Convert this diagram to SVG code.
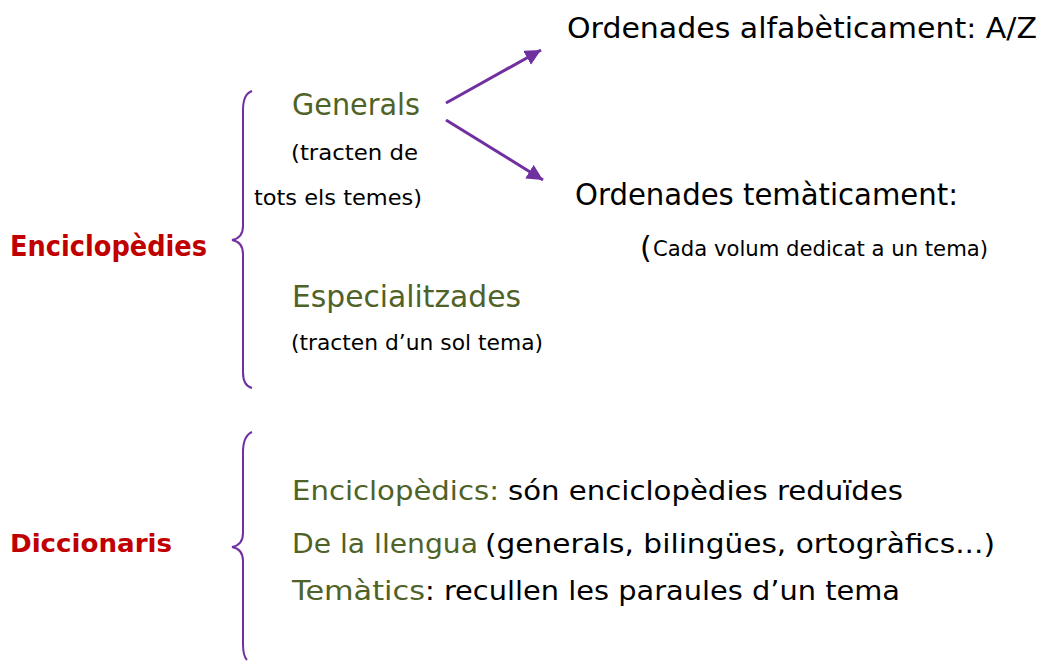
<svg xmlns="http://www.w3.org/2000/svg" width="1047" height="662" viewBox="0 0 1047 662">
<style>
text{font-family:"Comic Sans MS","DejaVu Sans",sans-serif;}
.k{fill:#000;}
.g{fill:#4F6228;}
.r{fill:#C00000;font-weight:bold;}
.br{fill:none;stroke:#7030A0;stroke-width:2;}
.ar{fill:none;stroke:#7030A0;stroke-width:3;}
</style>
<defs>
<marker id="ah" markerUnits="userSpaceOnUse" markerWidth="20" markerHeight="20" refX="16" refY="8" orient="auto">
<path d="M0,0 L16,8 L0,16 Z" fill="#7030A0"/>
</marker>
</defs>
<rect width="1047" height="662" fill="#fff"/>
<g id="connectors">
<line class="ar" x1="446" y1="103" x2="541" y2="50" marker-end="url(#ah)"/>
<line class="ar" x1="446" y1="120" x2="543" y2="180" marker-end="url(#ah)"/>
<path id="brace1" class="br" d="M252,91 Q243,94 243,110 L243,226 Q243,238 232,240 Q243,242 243,254 L243,372 Q243,386 252,388"/>
<path id="brace2" class="br" d="M252,432 Q243,436 243,452 L243,533 Q243,545 232,547 Q243,549 243,561 L243,644 Q243,656 247,660"/>
</g>
<g id="enciclopedies"><text class="r" x="10" y="256" font-size="28" textLength="197" lengthAdjust="spacingAndGlyphs">Enciclopèdies</text></g>
<g id="generals">
<text class="g" x="292" y="115" font-size="30" textLength="128" lengthAdjust="spacingAndGlyphs">Generals</text>
<text class="k" x="291" y="160" font-size="22" textLength="127" lengthAdjust="spacingAndGlyphs">(tracten de</text>
<text class="k" x="254" y="205" font-size="22" textLength="168" lengthAdjust="spacingAndGlyphs">tots els temes)</text>
</g>
<g id="alfabetic"><text class="k" x="567" y="38" font-size="28" textLength="470" lengthAdjust="spacingAndGlyphs">Ordenades alfabèticament: A/Z</text></g>
<g id="tematic">
<text class="k" x="575" y="205" font-size="30" textLength="383" lengthAdjust="spacingAndGlyphs">Ordenades temàticament:</text>
<text class="k" x="640" y="258" font-size="30">(</text>
<text class="k" x="653" y="256" font-size="22" textLength="335" lengthAdjust="spacingAndGlyphs">Cada volum dedicat a un tema)</text>
</g>
<g id="especialitzades">
<text class="g" x="292" y="307" font-size="30" textLength="229" lengthAdjust="spacingAndGlyphs">Especialitzades</text>
<text class="k" x="291" y="350" font-size="22" textLength="252" lengthAdjust="spacingAndGlyphs">(tracten d’un sol tema)</text>
</g>
<g id="diccionaris"><text class="r" x="10" y="552" font-size="24" textLength="162" lengthAdjust="spacingAndGlyphs">Diccionaris</text></g>
<g id="enciclopedics">
<text class="g" x="292" y="500" font-size="26" textLength="207" lengthAdjust="spacingAndGlyphs">Enciclopèdics:</text>
<text class="k" x="508" y="500" font-size="26" textLength="395" lengthAdjust="spacingAndGlyphs">són enciclopèdies reduïdes</text>
</g>
<g id="llengua">
<text class="g" x="292" y="553" font-size="26" textLength="186" lengthAdjust="spacingAndGlyphs">De la llengua</text>
<text class="k" x="485" y="553" font-size="26" textLength="510" lengthAdjust="spacingAndGlyphs">(generals, bilingües, ortogràfics...)</text>
</g>
<g id="tematics">
<text class="g" x="292" y="600" font-size="26" textLength="133" lengthAdjust="spacingAndGlyphs">Temàtics</text>
<text class="k" x="425" y="600" font-size="26" textLength="475" lengthAdjust="spacingAndGlyphs">: recullen les paraules d’un tema</text>
</g>
</svg>
